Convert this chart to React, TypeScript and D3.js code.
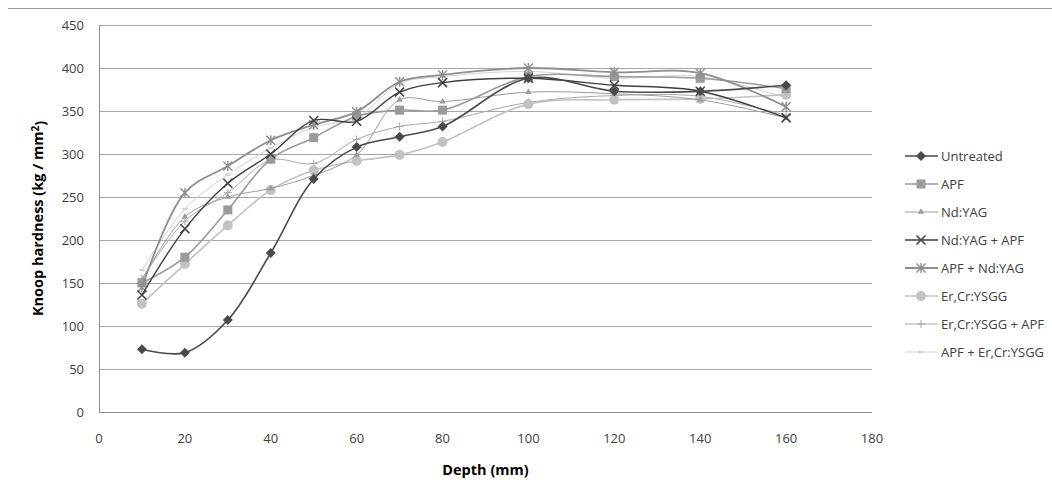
import React from "react";
import * as d3 from "d3";

const depths = [10, 20, 30, 40, 50, 60, 70, 80, 100, 120, 140, 160];
const untreated = [73, 69, 107, 185, 271, 308, 320, 332, 388, 373, 373, 380];
const apf = [150, 180, 235, 294, 319, 344, 351, 351, 390, 390, 388, 376];
const ndyag = [153, 227, 250, 260, 275, 299, 363, 361, 372, 370, 363, 342];
const ndyagApf = [136, 213, 266, 300, 339, 338, 372, 383, 388, 380, 373, 342];
const apfNdyag = [145, 255, 286, 316, 334, 349, 384, 392, 400, 395, 394, 355];
const erCr = [126, 172, 217, 258, 281, 292, 299, 314, 358, 363, 364, 369];
const erCrApf = [155, 222, 255, 293, 289, 317, 332, 338, 360, 368, 367, 345];
const apfErCr = [165, 236, 276, 307, 331, 342, 382, 390, 396, 388, 390, 365];

const seriesNames = [
  "Untreated",
  "APF",
  "Nd:YAG",
  "Nd:YAG + APF",
  "APF + Nd:YAG",
  "Er,Cr:YSGG",
  "Er,Cr:YSGG + APF",
  "APF + Er,Cr:YSGG",
];
const seriesValues = [untreated, apf, ndyag, ndyagApf, apfNdyag, erCr, erCrApf, apfErCr];
const xTicks = [0, 20, 40, 60, 80, 100, 120, 140, 160, 180];
const yTicks = [0, 50, 100, 150, 200, 250, 300, 350, 400, 450];

type Style = { color: string; width: number; marker: string };
const styles: Style[] = [
  { color: "#4a4a4a", width: 1.6, marker: "diamond" },
  { color: "#9a9a9a", width: 1.6, marker: "square" },
  { color: "#9c9c9c", width: 1.0, marker: "triangle" },
  { color: "#3e3e3e", width: 1.4, marker: "x" },
  { color: "#8e8e8e", width: 1.8, marker: "star" },
  { color: "#c2c2c2", width: 1.6, marker: "circle" },
  { color: "#a8a8a8", width: 1.0, marker: "plus" },
  { color: "#d2d2d2", width: 1.0, marker: "dot" },
];

const FONT = "'Open Sans', 'Noto Sans', sans-serif";

function Marker({ kind, cx, cy, color }: { kind: string; cx: number; cy: number; color: string }) {
  const t = `translate(${cx},${cy})`;
  if (kind === "diamond") return <path transform={t} d="M0,-5L5,0L0,5L-5,0Z" fill={color} />;
  if (kind === "square") return <rect x={cx - 4.5} y={cy - 4.5} width={9} height={9} fill={color} />;
  if (kind === "triangle")
    return <path transform={t} d={d3.symbol().type(d3.symbolTriangle).size(18)()!} fill={color} />;
  if (kind === "circle") return <circle cx={cx} cy={cy} r={5} fill={color} />;
  if (kind === "x")
    return (
      <path transform={t} d="M-4.5,-4.5L4.5,4.5M-4.5,4.5L4.5,-4.5" stroke={color} strokeWidth={1.5} fill="none" />
    );
  if (kind === "star")
    return (
      <path
        transform={t}
        d="M-4.5,-4.5L4.5,4.5M-4.5,4.5L4.5,-4.5M0,-5L0,5"
        stroke={color}
        strokeWidth={1.4}
        fill="none"
      />
    );
  if (kind === "plus")
    return <path transform={t} d="M-4,0L4,0M0,-4L0,4" stroke={color} strokeWidth={1} fill="none" />;
  return <path transform={t} d="M-2.5,0L2.5,0" stroke={color} strokeWidth={2.5} fill="none" />;
}

export default function App() {
  const x = d3.scaleLinear().domain([0, 180]).range([99, 872]);
  const y = d3.scaleLinear().domain([0, 450]).range([412, 25]);
  const line = d3
    .line<number>()
    .x((_, i) => x(depths[i]))
    .y((v) => y(v))
    .curve(d3.curveCatmullRom.alpha(0.5));

  const legendY0 = 156;
  const legendStep = 28;

  return (
    <svg
      width={1052}
      height={496}
      style={{ position: "absolute", left: 0, top: 0, background: "#fff" }}
      fontFamily={FONT}
    >
      <line x1={8} x2={1052} y1={8.5} y2={8.5} stroke="#999" strokeWidth={1} />
      {yTicks.map((t) => (
        <line
          key={"g" + t}
          x1={x(0)}
          x2={x(180)}
          y1={Math.round(y(t)) + 0.5}
          y2={Math.round(y(t)) + 0.5}
          stroke={t === 0 ? "#8c8c8c" : "#a6a6a6"}
          strokeWidth={1}
        />
      ))}
      <line x1={x(0) + 0.5} x2={x(0) + 0.5} y1={y(450)} y2={y(0)} stroke="#8c8c8c" strokeWidth={1} />
      {yTicks.map((t) => (
        <text key={"yl" + t} x={84} y={y(t)} dy="0.35em" textAnchor="end" fontSize={13} fill="#404040">
          {t}
        </text>
      ))}
      {xTicks.map((t) => (
        <text key={"xl" + t} x={x(t)} y={438} dy="0.35em" textAnchor="middle" fontSize={13} fill="#404040">
          {t}
        </text>
      ))}
      <text
        x={(x(0) + x(180)) / 2}
        y={470}
        dy="0.35em"
        textAnchor="middle"
        fontSize={14.5}
        fontWeight="bold"
        fill="#000"
      >
        Depth (mm)
      </text>
      <text
        transform={`translate(38,${(y(0) + y(450)) / 2}) rotate(-90)`}
        dy="0.35em"
        textAnchor="middle"
        fontSize={14.5}
        fontWeight="bold"
        fill="#000"
      >
        Knoop hardness (kg / mm
        <tspan dy="-0.45em" fontSize={10}>
          2
        </tspan>
        <tspan dy="0.45em">)</tspan>
      </text>
      {[7, 6, 5, 2, 1, 4, 3, 0].map((si) => (
        <g key={"s" + si}>
          <path d={line(seriesValues[si])!} fill="none" stroke={styles[si].color} strokeWidth={styles[si].width} />
          {seriesValues[si].map((v, i) => (
            <Marker key={i} kind={styles[si].marker} cx={x(depths[i])} cy={y(v)} color={styles[si].color} />
          ))}
        </g>
      ))}
      {seriesNames.map((name, i) => {
        const ly = legendY0 + i * legendStep;
        return (
          <g key={"lg" + i}>
            <line x1={905} x2={938} y1={ly} y2={ly} stroke={styles[i].color} strokeWidth={styles[i].width} />
            <Marker kind={styles[i].marker} cx={921} cy={ly} color={styles[i].color} />
            <text x={941} y={ly} dy="0.35em" fontSize={13} fill="#404040">
              {name}
            </text>
          </g>
        );
      })}
    </svg>
  );
}
